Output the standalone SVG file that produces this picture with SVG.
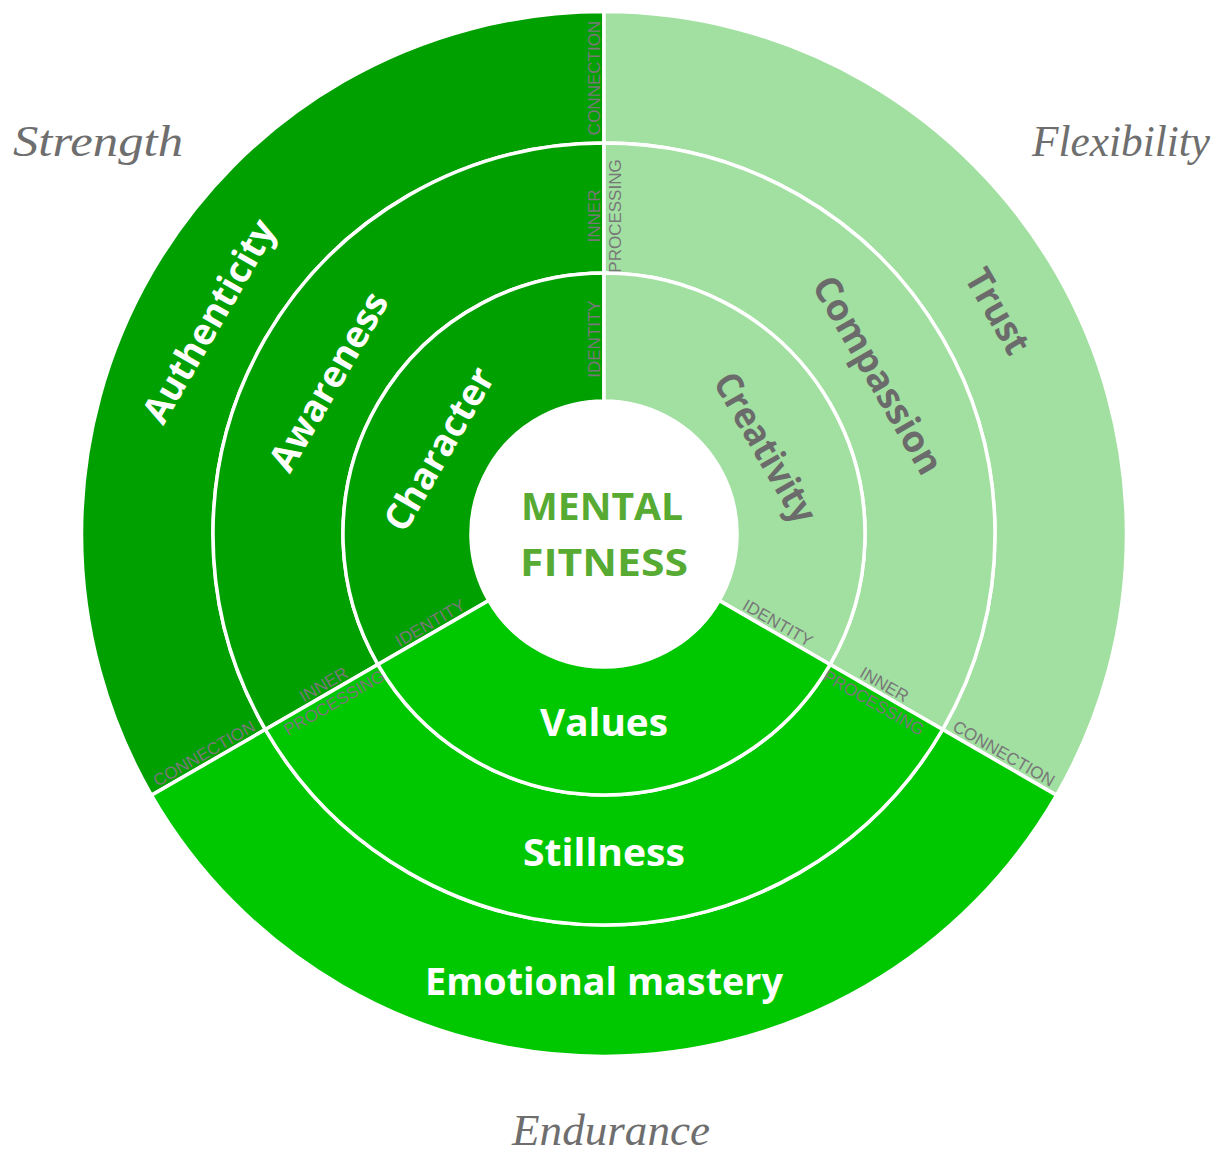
<svg xmlns="http://www.w3.org/2000/svg" width="1218" height="1157" viewBox="0 0 1218 1157">
<style>
.seg{stroke:#fff;stroke-width:3.5;stroke-linejoin:miter}
.dark{fill:#00a000}
.light{fill:#a2e0a2}
.bright{fill:#00c800}
.lbl{font-family:"Open Sans","Liberation Sans",sans-serif;font-weight:700;font-size:37px;text-anchor:middle}
.w{fill:#ffffff}
.g{fill:#6b6b6b}
.sm{font-family:"Liberation Sans",Arial,sans-serif;font-size:17px;fill:#787878;text-anchor:middle}
.script{font-family:"Liberation Serif","DejaVu Serif",serif;font-style:italic;font-size:44px;fill:#6e6e6e}
.ctr{font-family:"Open Sans","Liberation Sans",sans-serif;font-weight:700;font-size:38px;fill:#57ab33;text-anchor:middle}
</style>
<rect width="1218" height="1157" fill="#ffffff"/>

<g id="strength-segments">
  <g id="authenticity">
    <path class="seg dark" d="M151.50,795.25 A522.5,522.5 0 0 1 604,11.5 L604,143 A391,391 0 0 0 265.38,729.5 Z"/>
    <text class="lbl w" transform="translate(209,321) rotate(-60)" x="0" y="13" textLength="228" lengthAdjust="spacingAndGlyphs">Authenticity</text>
  </g>
  <g id="awareness">
    <path class="seg dark" d="M265.38,729.5 A391,391 0 0 1 604,143 L604,273 A261,261 0 0 0 377.97,664.5 Z"/>
    <text class="lbl w" transform="translate(328.5,381.5) rotate(-60)" x="0" y="13" textLength="200" lengthAdjust="spacingAndGlyphs">Awareness</text>
  </g>
  <g id="character">
    <path class="seg dark" d="M377.97,664.5 A261,261 0 0 1 604,273 L604,401 A133,133 0 0 0 488.82,600.5 Z"/>
    <text class="lbl w" transform="translate(439,449) rotate(-60)" x="0" y="13" textLength="182" lengthAdjust="spacingAndGlyphs">Character</text>
  </g>
</g>

<g id="flexibility-segments">
  <g id="trust">
    <path class="seg light" d="M604,11.5 A522.5,522.5 0 0 1 1056.50,795.25 L942.62,729.5 A391,391 0 0 0 604,143 Z"/>
    <text class="lbl g" transform="translate(998,311) rotate(60)" x="0" y="13" textLength="92" lengthAdjust="spacingAndGlyphs">Trust</text>
  </g>
  <g id="compassion">
    <path class="seg light" d="M604,143 A391,391 0 0 1 942.62,729.5 L830.03,664.5 A261,261 0 0 0 604,273 Z"/>
    <text class="lbl g" transform="translate(878,375) rotate(60)" x="0" y="13" textLength="222" lengthAdjust="spacingAndGlyphs">Compassion</text>
  </g>
  <g id="creativity">
    <path class="seg light" d="M604,273 A261,261 0 0 1 830.03,664.5 L719.18,600.5 A133,133 0 0 0 604,401 Z"/>
    <text class="lbl g" transform="translate(765.5,447.5) rotate(60)" x="0" y="13" textLength="167" lengthAdjust="spacingAndGlyphs">Creativity</text>
  </g>
</g>

<g id="endurance-segments">
  <g id="emotional-mastery">
    <path class="seg bright" d="M1056.50,795.25 A522.5,522.5 0 0 1 151.50,795.25 L265.38,729.5 A391,391 0 0 0 942.62,729.5 Z"/>
    <text class="lbl w" x="604" y="995" textLength="358" lengthAdjust="spacingAndGlyphs">Emotional mastery</text>
  </g>
  <g id="stillness">
    <path class="seg bright" d="M942.62,729.5 A391,391 0 0 1 265.38,729.5 L377.97,664.5 A261,261 0 0 0 830.03,664.5 Z"/>
    <text class="lbl w" x="604" y="866" textLength="162" lengthAdjust="spacingAndGlyphs">Stillness</text>
  </g>
  <g id="values">
    <path class="seg bright" d="M830.03,664.5 A261,261 0 0 1 377.97,664.5 L488.82,600.5 A133,133 0 0 0 719.18,600.5 Z"/>
    <text class="lbl w" x="604" y="736" textLength="128" lengthAdjust="spacingAndGlyphs">Values</text>
  </g>
</g>

<g id="center">
  <circle cx="604" cy="534" r="133" fill="#ffffff" stroke="#ffffff" stroke-width="2"/>
  <text class="ctr" x="602" y="520" textLength="162" lengthAdjust="spacingAndGlyphs">MENTAL</text>
  <text class="ctr" x="604" y="576" textLength="168" lengthAdjust="spacingAndGlyphs">FITNESS</text>
</g>

<g id="connectors"></g>

<g id="boundary-labels">
  <g id="top-boundary" transform="translate(604,534) rotate(-90)">
    <text class="sm" x="456" y="-4">CONNECTION</text>
    <text class="sm" x="318" y="-4">INNER</text>
    <text class="sm" x="318" y="17">PROCESSING</text>
    <text class="sm" x="195" y="-4">IDENTITY</text>
  </g>
  <g id="right-boundary" transform="translate(604,534) rotate(30)">
    <text class="sm" x="456" y="-4">CONNECTION</text>
    <text class="sm" x="318" y="-4">INNER</text>
    <text class="sm" x="318" y="17">PROCESSING</text>
    <text class="sm" x="195" y="-4">IDENTITY</text>
  </g>
  <g id="left-boundary" transform="translate(604,534) rotate(-30)">
    <text class="sm" x="-456" y="-4">CONNECTION</text>
    <text class="sm" x="-318" y="-4">INNER</text>
    <text class="sm" x="-318" y="17">PROCESSING</text>
    <text class="sm" x="-195" y="-4">IDENTITY</text>
  </g>
</g>

<g id="dimension-titles">
  <text id="title-strength" class="script" x="13" y="156" textLength="170" lengthAdjust="spacingAndGlyphs">Strength</text>
  <text id="title-flexibility" class="script" x="1032" y="156" textLength="178" lengthAdjust="spacingAndGlyphs">Flexibility</text>
  <text id="title-endurance" class="script" x="512" y="1145" font-size="41" textLength="198" lengthAdjust="spacingAndGlyphs">Endurance</text>
</g>
</svg>
